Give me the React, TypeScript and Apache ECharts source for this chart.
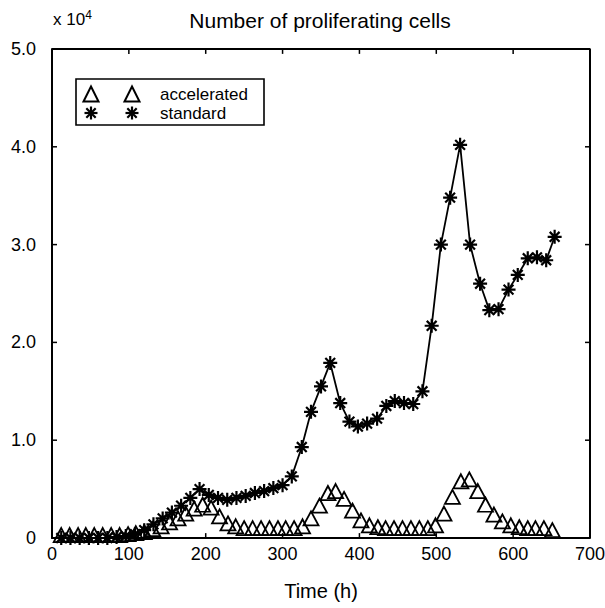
import React, { useEffect, useRef } from "react";
import * as echarts from "echarts";

// Time (h) for each series
const STANDARD_TIMES = [
  12, 24, 36, 48, 60, 72, 84, 96, 108, 120, 132, 144, 156, 168, 180, 192, 204, 216, 228, 240,
  252, 264, 276, 288, 300, 312, 325, 337, 350, 362, 375, 387, 398, 410, 423, 435, 446, 458,
  470, 482, 494, 506, 518, 531, 544, 557, 569, 581, 594, 606, 619, 631, 643, 654,
];
// Number of proliferating cells (x 10^4)
const STANDARD_VALUES = [
  0, 0, 0, 0, 0, 0, 0.01, 0.02, 0.04, 0.08, 0.14, 0.2, 0.26, 0.33, 0.41, 0.5, 0.44, 0.41, 0.39,
  0.41, 0.43, 0.46, 0.48, 0.51, 0.54, 0.63, 0.93, 1.29, 1.55, 1.79, 1.38, 1.19, 1.14, 1.17, 1.22,
  1.35, 1.4, 1.38, 1.37, 1.5, 2.17, 3.0, 3.48, 4.02, 3.0, 2.6, 2.33, 2.34, 2.54, 2.69, 2.86,
  2.87, 2.84, 3.08,
];

const ACCELERATED_TIMES = [
  12, 23, 34, 44, 55, 66, 77, 88, 99, 109, 120, 131, 142, 153, 164, 174, 185, 196, 207, 218,
  229, 239, 250, 261, 272, 283, 294, 304, 315, 326, 337, 348, 359, 369, 380, 391, 402, 413,
  424, 434, 445, 456, 467, 478, 489, 499, 510, 521, 532, 543, 554, 564, 575, 586, 597, 608,
  619, 629, 640, 651,
];
const ACCELERATED_VALUES = [
  0.03, 0.03, 0.03, 0.03, 0.03, 0.03, 0.03, 0.03, 0.04, 0.05,
  0.06, 0.09, 0.12, 0.16, 0.2, 0.25, 0.3, 0.34, 0.31, 0.22,
  0.15, 0.12, 0.1, 0.1, 0.1, 0.1, 0.1, 0.1, 0.1, 0.12,
  0.2, 0.33, 0.46, 0.48, 0.4, 0.28, 0.18, 0.13, 0.11, 0.1,
  0.1, 0.1, 0.1, 0.1, 0.1, 0.13, 0.25, 0.42, 0.58, 0.6,
  0.48, 0.34, 0.24, 0.17, 0.13, 0.11, 0.1, 0.1, 0.1, 0.08,
];

// axis ticks (all four edges of the box)
const X_TICKS = [0, 100, 200, 300, 400, 500, 600, 700];
const Y_TICKS = [0, 1, 2, 3, 4, 5];
// inward tick length, in axis units (about 5 px)
const TICK_DX = 6.5;
const TICK_DY = 0.05;

const SERIES_NAMES = ["accelerated", "standard"];
const TITLE = "Number of proliferating cells";
const X_NAME = "Time (h)";

const FONT = "'Liberation Sans', Arial, Helvetica, sans-serif";
const ASTERISK = "path://M6 0 L6 12 M0 6 L12 6 M1.8 1.8 L10.2 10.2 M1.8 10.2 L10.2 1.8";

function asteriskLines(cx: number, cy: number, r: number) {
  const d = r * 0.72;
  const segs = [
    [cx, cy - r, cx, cy + r],
    [cx - r, cy, cx + r, cy],
    [cx - d, cy - d, cx + d, cy + d],
    [cx - d, cy + d, cx + d, cy - d],
  ];
  return segs.map((s) => ({
    type: "line",
    shape: { x1: s[0], y1: s[1], x2: s[2], y2: s[3] },
    style: { stroke: "#000", lineWidth: 2.2 },
  }));
}

function triangle(cx: number, cy: number, w: number, h: number) {
  return {
    type: "polygon",
    shape: {
      points: [
        [cx, cy - h / 2],
        [cx + w / 2, cy + h / 2],
        [cx - w / 2, cy + h / 2],
      ],
    },
    style: { fill: "none", stroke: "#000", lineWidth: 2 },
  };
}

export default function App() {
  const ref = useRef<HTMLDivElement>(null);

  useEffect(() => {
    if (!ref.current) return;
    const chart = echarts.init(ref.current, null, { renderer: "svg" });

    const accData = ACCELERATED_TIMES.map((t, i) => [t, ACCELERATED_VALUES[i]]);
    const stdData = STANDARD_TIMES.map((t, i) => [t, STANDARD_VALUES[i]]);

    const xMin = X_TICKS[0];
    const xMax = X_TICKS[X_TICKS.length - 1];
    const yMin = Y_TICKS[0];
    const yMax = Y_TICKS[Y_TICKS.length - 1];

    const segStyle = (width: number) => ({
      type: "line",
      symbol: "none",
      silent: true,
      clip: false,
      z: 5,
      lineStyle: { color: "#000", width, type: "solid" },
      emphasis: { disabled: true },
    });

    // Top and right edges of the box
    const frameSeries = {
      ...segStyle(2),
      name: "frame",
      data: [
        [xMin, yMax],
        [xMax, yMax],
        [xMax, yMin],
      ],
    };

    // Inward ticks on all four edges
    const tickSeries: any[] = [];
    X_TICKS.slice(1, -1).forEach((t) => {
      tickSeries.push({ ...segStyle(1.5), name: `xt-b-${t}`, data: [[t, yMin], [t, yMin + TICK_DY]] });
      tickSeries.push({ ...segStyle(1.5), name: `xt-t-${t}`, data: [[t, yMax], [t, yMax - TICK_DY]] });
    });
    Y_TICKS.slice(1, -1).forEach((v) => {
      tickSeries.push({ ...segStyle(1.5), name: `yt-l-${v}`, data: [[xMin, v], [xMin + TICK_DX, v]] });
      tickSeries.push({ ...segStyle(1.5), name: `yt-r-${v}`, data: [[xMax, v], [xMax - TICK_DX, v]] });
    });

    chart.setOption({
      animation: false,
      backgroundColor: "#fff",
      textStyle: { fontFamily: FONT },
      grid: { left: 52, right: 15, top: 49, bottom: 70, containLabel: false, outerBoundsMode: "none" },
      xAxis: {
        type: "value",
        min: xMin,
        max: xMax,
        interval: 100,
        axisLine: { show: true, onZero: false, lineStyle: { color: "#000", width: 2 } },
        axisTick: { show: false },
        splitLine: { show: false },
        axisLabel: { color: "#000", fontSize: 18, fontFamily: FONT, margin: 7 },
        name: X_NAME,
        nameLocation: "middle",
        nameGap: 43,
        nameTextStyle: { color: "#000", fontSize: 20, fontFamily: FONT },
      },
      yAxis: {
        type: "value",
        min: yMin,
        max: yMax,
        interval: 1,
        axisLine: { show: true, onZero: false, lineStyle: { color: "#000", width: 2 } },
        axisTick: { show: false },
        splitLine: { show: false },
        axisLabel: {
          color: "#000",
          fontSize: 18,
          fontFamily: FONT,
          margin: 16,
          formatter: (v: number) => (v === 0 ? "0" : v.toFixed(1)),
        },
      },
      series: [
        frameSeries,
        ...tickSeries,
        {
          name: SERIES_NAMES[0],
          type: "line",
          data: accData,
          symbol: "triangle",
          symbolSize: [15, 14],
          showAllSymbol: true,
          lineStyle: { width: 0, opacity: 0 },
          itemStyle: { color: "rgba(0,0,0,0)", borderColor: "#000", borderWidth: 1.8 },
          z: 3,
        },
        {
          name: SERIES_NAMES[1],
          type: "line",
          data: stdData,
          symbol: ASTERISK,
          symbolSize: 14,
          showAllSymbol: true,
          lineStyle: { color: "#000", width: 1.8 },
          itemStyle: { color: "rgba(0,0,0,0)", borderColor: "#000", borderWidth: 2.2 },
          z: 4,
        },
      ],
      graphic: [
        {
          type: "text",
          left: 53,
          top: 9,
          style: {
            text: "x 10{sup|4}",
            fill: "#000",
            font: `17px ${FONT}`,
            rich: { sup: { fontSize: 12, verticalAlign: "top", padding: [0, 0, 8, 0], fontFamily: FONT } },
          },
        },
        {
          type: "text",
          x: 320,
          y: 20,
          style: {
            text: TITLE,
            fill: "#000",
            font: `21px ${FONT}`,
            textAlign: "center",
            textVerticalAlign: "middle",
          },
        },
        {
          type: "rect",
          shape: { x: 76, y: 79, width: 188, height: 46 },
          style: { fill: "#fff", stroke: "#000", lineWidth: 1.6 },
          z: 10,
        },
        { ...triangle(91, 94, 15, 15), z: 11 },
        { ...triangle(132, 94, 15, 15), z: 11 },
        ...asteriskLines(91, 113, 6.5).map((e) => ({ ...e, z: 11 })),
        ...asteriskLines(132, 113, 6.5).map((e) => ({ ...e, z: 11 })),
        {
          type: "text",
          x: 160,
          y: 94,
          z: 11,
          style: { text: SERIES_NAMES[0], fill: "#000", font: `17px ${FONT}`, textVerticalAlign: "middle" },
        },
        {
          type: "text",
          x: 160,
          y: 113,
          z: 11,
          style: { text: SERIES_NAMES[1], fill: "#000", font: `17px ${FONT}`, textVerticalAlign: "middle" },
        },
      ],
    });

    return () => chart.dispose();
  }, []);

  return (
    <div
      ref={ref}
      style={{ position: "fixed", left: 0, top: 0, width: 605, height: 608, background: "#fff" }}
    />
  );
}
